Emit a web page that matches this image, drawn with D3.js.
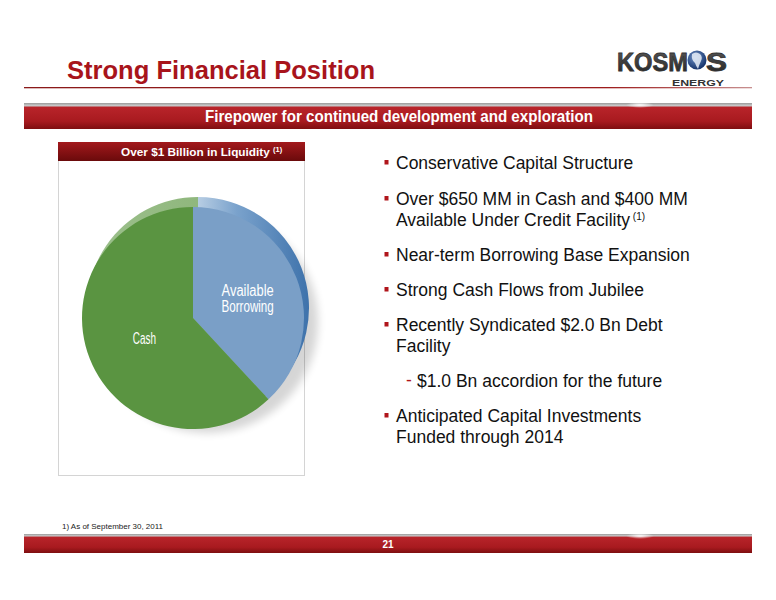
<!DOCTYPE html>
<html><head><meta charset="utf-8">
<script src="https://cdnjs.cloudflare.com/ajax/libs/d3/7.8.5/d3.min.js"></script>
<style>body{margin:0;background:#fff}svg{display:block;font-family:"Liberation Sans",Arial,sans-serif}</style>
</head><body><svg id="c" width="776" height="600"></svg>
<script>
const categories = ["Available Borrowing", "Cash"];
const values = [400, 650];
const labelLines = [["Available", "Borrowing"], ["Cash"]];
const bullets = [
  {lines: ["Conservative Capital Structure"], sub: false},
  {lines: ["Over $650 MM in Cash and $400 MM", "Available Under Credit Facility"], sup: "(1)", sub: false},
  {lines: ["Near-term Borrowing Base Expansion"], sub: false},
  {lines: ["Strong Cash Flows from Jubilee"], sub: false},
  {lines: ["Recently Syndicated $2.0 Bn Debt", "Facility"], sub: false},
  {lines: ["$1.0 Bn accordion for the future"], sub: true},
  {lines: ["Anticipated Capital Investments", "Funded through 2014"], sub: false}
];
const bulletBaselines = [169, 205, 261, 296, 331, 387, 422];

const svg = d3.select("#c");
const defs = svg.append("defs");
function lin(id, stops, x2, y2) {
  const g = defs.append("linearGradient").attr("id", id).attr("x1", 0).attr("y1", 0).attr("x2", x2).attr("y2", y2);
  stops.forEach(s => g.append("stop").attr("offset", s[0]).attr("stop-color", s[1]));
}
lin("banner", [[0, "#9a9a9a"], [0.1, "#c9c9c9"], [0.17, "#b8242a"], [0.7, "#a81a1f"], [1, "#7e0e10"]], 0, 1);
lin("hdr", [[0, "#a3191c"], [1, "#6a0a0b"]], 0, 1);
lin("rule", [[0, "#8a1a1a"], [0.8, "#9d1c1c"], [1, "#c89090"]], 1, 0);
lin("rimBlue", [[0, "#b7cde3"], [0.35, "#7aa2cc"], [1, "#3e72ab"]], 1, 0);
lin("rimGreen", [[0, "#9dc08d"], [1, "#86b172"]], 1, 0);
lin("logoTxt", [[0, "#5a5a5a"], [1, "#222"]], 0, 1);
const rg = defs.append("radialGradient").attr("id", "globe").attr("cx", 0.4).attr("cy", 0.35).attr("r", 0.7);
rg.append("stop").attr("offset", 0).attr("stop-color", "#6f93c9");
rg.append("stop").attr("offset", 1).attr("stop-color", "#0f2c63");
const glint = defs.append("radialGradient").attr("id", "glint");
glint.append("stop").attr("offset", 0).attr("stop-color", "#fff").attr("stop-opacity", 0.95);
glint.append("stop").attr("offset", 1).attr("stop-color", "#fff").attr("stop-opacity", 0);
defs.append("filter").attr("id", "blur").append("feGaussianBlur").attr("stdDeviation", 4);

// Title
svg.append("text").attr("x", 67).attr("y", 79).attr("fill", "#a8141b").attr("font-weight", "bold")
  .attr("font-size", 25.5).attr("textLength", 308).attr("lengthAdjust", "spacingAndGlyphs").text("Strong Financial Position");
svg.append("rect").attr("x", 24).attr("y", 87).attr("width", 728).attr("height", 1.3).attr("fill", "url(#rule)");

// Logo
svg.append("text").attr("x", 617).attr("y", 71).attr("font-weight", "bold").attr("font-size", 25)
  .attr("fill", "url(#logoTxt)").attr("stroke", "#333").attr("stroke-width", 0.8)
  .attr("textLength", 71).attr("lengthAdjust", "spacingAndGlyphs").text("KOSM");
svg.append("circle").attr("cx", 697).attr("cy", 60).attr("r", 9.5).attr("fill", "url(#globe)");
svg.append("path").attr("d", "M692,54 q4,-3 8,0 q3,3 1,7 q-2,4 -3,8 q-2,-3 -3,-6 q-4,-3 -3,-9z").attr("fill", "#e8eef8").attr("opacity", 0.85);
svg.append("text").attr("x", 706).attr("y", 71).attr("font-weight", "bold").attr("font-size", 25)
  .attr("fill", "url(#logoTxt)").attr("stroke", "#333").attr("stroke-width", 0.8)
  .attr("textLength", 21).attr("lengthAdjust", "spacingAndGlyphs").text("S");
svg.append("text").attr("x", 672).attr("y", 86).attr("font-weight", "bold").attr("font-size", 9.5)
  .attr("fill", "#333").attr("textLength", 52).attr("lengthAdjust", "spacingAndGlyphs").text("ENERGY");

// Banner
svg.append("rect").attr("x", 24).attr("y", 103).attr("width", 728).attr("height", 26).attr("fill", "url(#banner)");
svg.append("ellipse").attr("cx", 640).attr("cy", 105).attr("rx", 14).attr("ry", 3).attr("fill", "url(#glint)");
svg.append("text").attr("x", 399).attr("y", 121.5).attr("text-anchor", "middle").attr("fill", "#fff")
  .attr("font-weight", "bold").attr("font-size", 16.5).attr("textLength", 388).attr("lengthAdjust", "spacingAndGlyphs")
  .text("Firepower for continued development and exploration");

// Panel
svg.append("rect").attr("x", 58.5).attr("y", 160.5).attr("width", 246).attr("height", 315).attr("fill", "none").attr("stroke", "#d4d4d4");
svg.append("rect").attr("x", 58).attr("y", 142).attr("width", 247).attr("height", 19).attr("fill", "url(#hdr)");
const ht = svg.append("text").attr("x", 121).attr("y", 156).attr("fill", "#fff").attr("font-weight", "bold").attr("font-size", 11.8);
ht.append("tspan").text("Over $1 Billion in Liquidity ");
ht.append("tspan").attr("font-size", 7.5).attr("dy", -4).text("(1)");

// Pie
const cx = 193, cy = 318, r = 111;
const pie = d3.pie().sort(null)(values);
const arc = d3.arc().innerRadius(0).outerRadius(r);
const labelArc = d3.arc().innerRadius(r * 0.5).outerRadius(r * 0.5);
const color = d3.scaleOrdinal().domain(categories).range(["#7a9fc7", "#5a9441"]);
const rimColor = d3.scaleOrdinal().domain(categories).range(["url(#rimBlue)", "url(#rimGreen)"]);

svg.append("ellipse").attr("cx", cx + 14).attr("cy", cy + 4).attr("rx", r).attr("ry", r)
  .attr("fill", "#000").attr("opacity", 0.16).attr("filter", "url(#blur)");
const back = svg.append("g").attr("transform", `translate(${cx + 5},${cy - 10})`);
back.selectAll("path").data(pie).join("path").attr("d", arc).attr("fill", d => rimColor(categories[d.index]));
const front = svg.append("g").attr("transform", `translate(${cx},${cy})`);
front.selectAll("path").data(pie).join("path").attr("d", arc).attr("fill", d => color(categories[d.index]));
front.selectAll("text.lbl").data(pie).join("text").attr("class", "lbl")
  .attr("transform", d => { const c = labelArc.centroid(d); return `translate(${c[0] + 3},${c[1]})`; })
  .attr("text-anchor", "middle").attr("fill", "#fff").attr("font-size", 16)
  .each(function(d) {
    const lines = labelLines[d.index];
    const t = d3.select(this);
    lines.forEach((l, i) => t.append("tspan").attr("x", 0).attr("y", (i - (lines.length - 1) / 2) * 16 + 6)
      .attr("textLength", l.length * 5.8).attr("lengthAdjust", "spacingAndGlyphs").text(l));
  });

// Bullets
const bg = svg.append("g");
bullets.forEach((b, i) => {
  const y0 = bulletBaselines[i];
  const tx = b.sub ? 417 : 396;
  if (b.sub) {
    bg.append("text").attr("x", 406).attr("y", y0 - 1).attr("fill", "#b0151b").attr("font-size", 17.5).text("-");
  } else {
    bg.append("rect").attr("x", 384.5).attr("y", y0 - 9).attr("width", 4).attr("height", 4.5).attr("fill", "#b0151b");
  }
  b.lines.forEach((l, j) => {
    const t = bg.append("text").attr("x", tx).attr("y", y0 + j * 21).attr("fill", "#111").attr("font-size", 17.5).text(l);
    if (b.sup && j === b.lines.length - 1) {
      t.append("tspan").attr("font-size", 10).attr("dy", -6).text(" " + b.sup);
    }
  });
});

// Footer
svg.append("text").attr("x", 62).attr("y", 529).attr("font-size", 8).attr("fill", "#222")
  .attr("textLength", 101).attr("lengthAdjust", "spacingAndGlyphs").text("1) As of September 30, 2011");
svg.append("rect").attr("x", 24).attr("y", 534).attr("width", 728).attr("height", 19).attr("fill", "url(#banner)");
svg.append("ellipse").attr("cx", 640).attr("cy", 536).attr("rx", 14).attr("ry", 3).attr("fill", "url(#glint)");
svg.append("text").attr("x", 388).attr("y", 548).attr("text-anchor", "middle").attr("fill", "#fff")
  .attr("font-weight", "bold").attr("font-size", 10).text("21");
</script></body></html>
